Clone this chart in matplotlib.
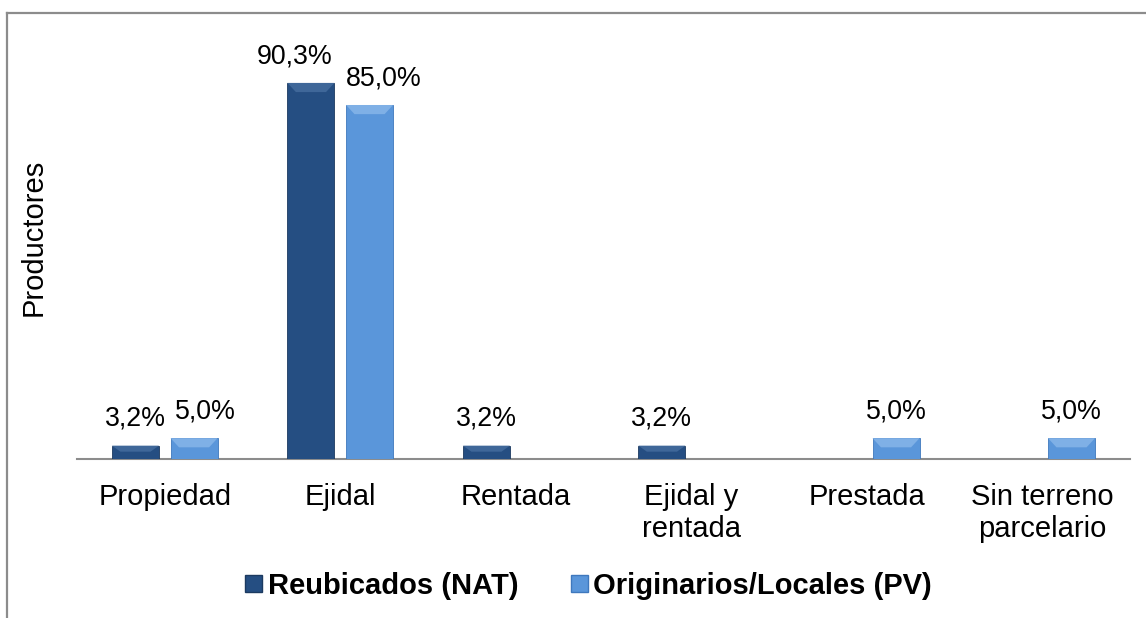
import matplotlib
matplotlib.use("Agg")
import matplotlib.pyplot as plt
from matplotlib.patches import Polygon, Patch
from matplotlib.lines import Line2D
import numpy as np

categorias = ["Propiedad", "Ejidal", "Rentada", "Ejidal y\nrentada", "Prestada", "Sin terreno\nparcelario"]
reubicados = [3.2, 90.3, 3.2, 3.2, 0.0, 0.0]
originarios = [5.0, 85.0, 0.0, 0.0, 5.0, 5.0]
series_names = ["Reubicados (NAT)", "Originarios/Locales (PV)"]

plt.rcParams['font.family'] = ['Liberation Sans', 'DejaVu Sans']

dark = "#254E82"
light = "#5A96DA"
dark_top = "#3F6799"
light_top = "#7FB0E6"

# horizontal nudge (points) of data labels so neighbours do not overlap
nudge_reub = [0, -11.5, 0, 0, 0, 0]
nudge_orig = [8, 10, 0, 0, 0, 0]

fig = plt.figure(figsize=(11.46, 6.18), dpi=100)
ax = fig.add_axes([0.0672, 0.2573, 0.9188, 0.6739])

x = np.arange(len(categorias))
w = 0.268
off = 0.167


def bevel(ax, bars, top_col):
    # lighter top facet drawn from each bar's own geometry
    for b in bars:
        h = b.get_height()
        if h <= 0:
            continue
        x0, wd = b.get_x(), b.get_width()
        d = min(2.2, h * 0.45)
        inset = wd * 0.18
        poly = Polygon([[x0, h], [x0 + wd, h], [x0 + wd - inset, h - d], [x0 + inset, h - d]],
                       closed=True, facecolor=top_col, edgecolor="none", zorder=4)
        ax.add_patch(poly)


for vals, pos, col, tcol, nud in [(reubicados, x - off, dark, dark_top, nudge_reub),
                                  (originarios, x + off, light, light_top, nudge_orig)]:
    hv = [v if v > 0 else np.nan for v in vals]
    bars = ax.bar(pos, hv, width=w, color=col, edgecolor="#1c3a60" if col == dark else "#3f78bd",
                  linewidth=0.6, zorder=3)
    bevel(ax, bars, tcol)
    for p, v, n in zip(pos, vals, nud):
        if v > 0:
            ax.annotate(f"{v:.1f}%".replace(".", ","), (p, v), xytext=(n, 10),
                        textcoords="offset points", ha="center", va="bottom", fontsize=19.3)

ax.set_xlim(-0.5, len(categorias) - 0.5)
ax.set_ylim(0, 100)
ax.set_yticks([])
ax.set_xticks(x)
ax.set_xticklabels(categorias, fontsize=21, linespacing=1.18)
ax.tick_params(axis="x", length=0, pad=17.5)
for s in ["top", "right", "left"]:
    ax.spines[s].set_visible(False)
ax.spines["bottom"].set_color("#8c8c8c")
ax.spines["bottom"].set_linewidth(1.5)
ax.set_ylabel("Productores", fontsize=21)
ax.yaxis.set_label_coords(-0.0275, 0.532)

handles = [Patch(facecolor=dark, edgecolor="#1c3a60"), Patch(facecolor=light, edgecolor="#3f78bd")]
fig.legend(handles, series_names, loc="center", bbox_to_anchor=(0.5135, 0.052), ncol=2, frameon=False,
           prop={"weight": "bold", "size": 21}, handlelength=0.6, handleheight=0.5,
           handletextpad=0.18, columnspacing=1.8)

# outer frame (left and top edges visible)
fig.add_artist(Line2D([0.0065, 0.0065], [0.0, 0.979], color="#8c8c8c", lw=1.6))
fig.add_artist(Line2D([0.0065, 1.0], [0.979, 0.979], color="#8c8c8c", lw=1.6))

fig.savefig("out.png", dpi=100)
